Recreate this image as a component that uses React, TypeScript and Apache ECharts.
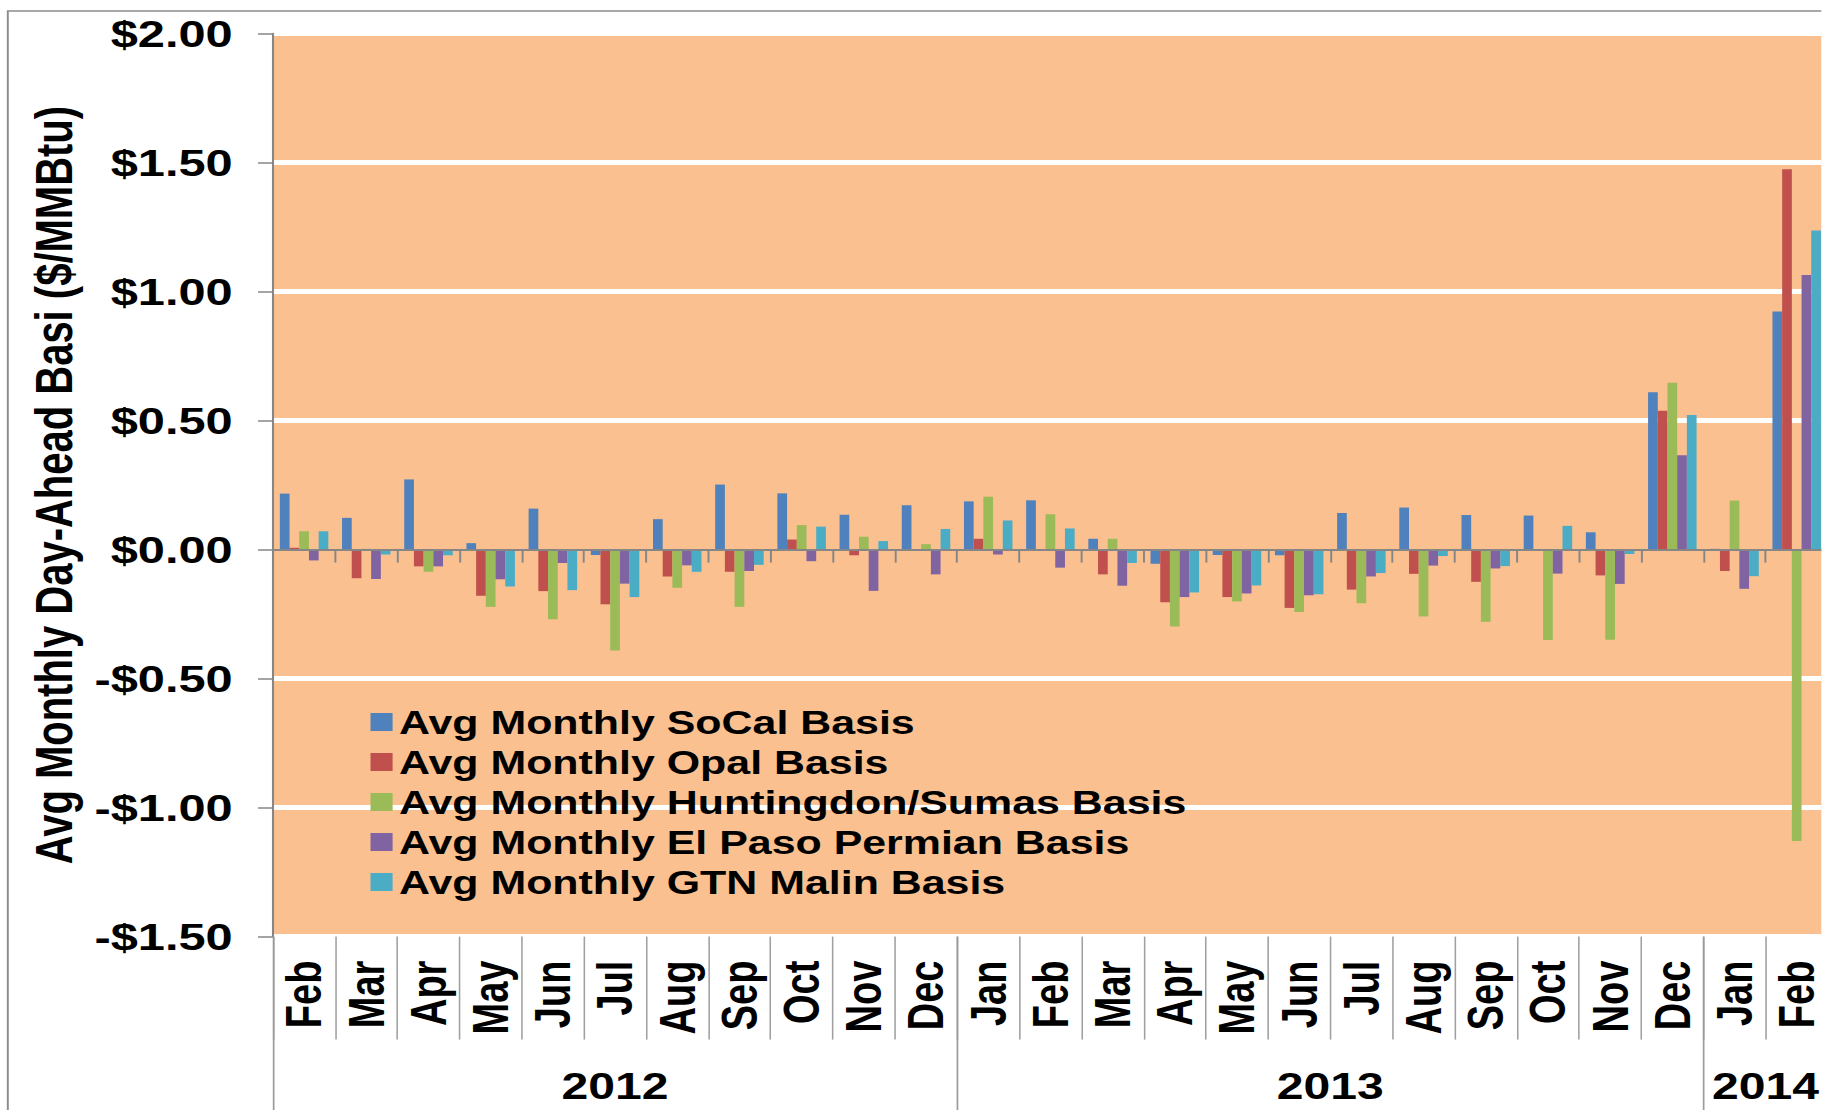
import React, { useEffect, useRef } from "react";
import * as echarts from "echarts";

// ---------- data ----------
const months = [
  "Feb", "Mar", "Apr", "May", "Jun", "Jul", "Aug", "Sep", "Oct", "Nov", "Dec",
  "Jan", "Feb", "Mar", "Apr", "May", "Jun", "Jul", "Aug", "Sep", "Oct", "Nov", "Dec",
  "Jan", "Feb",
];
const years = ["2012", "2013", "2014"];
const yearMonthCounts = [11, 12, 2];

const seriesNames = [
  "Avg Monthly SoCal Basis",
  "Avg Monthly Opal Basis",
  "Avg Monthly Huntingdon/Sumas Basis",
  "Avg Monthly El Paso Permian Basis",
  "Avg Monthly GTN Malin Basis",
];
const socal = [0.217, 0.123, 0.272, 0.025, 0.159, -0.021, 0.118, 0.252, 0.218, 0.135, 0.172, 0.187, 0.191, 0.042, -0.055, -0.021, -0.022, 0.142, 0.163, 0.134, 0.132, 0.067, 0.61, 0.003, 0.923];
const opal = [0.007, -0.111, -0.065, -0.179, -0.161, -0.212, -0.104, -0.086, 0.039, -0.022, -0.004, 0.042, 0.002, -0.096, -0.204, -0.184, -0.226, -0.155, -0.094, -0.125, -0.002, -0.1, 0.538, -0.083, 1.474];
const huntingdon = [0.071, 0.003, -0.086, -0.222, -0.27, -0.391, -0.148, -0.222, 0.095, 0.05, 0.021, 0.205, 0.137, 0.042, -0.298, -0.201, -0.242, -0.208, -0.259, -0.28, -0.35, -0.349, 0.647, 0.19, -1.129];
const elpaso = [-0.042, -0.114, -0.065, -0.115, -0.052, -0.132, -0.061, -0.083, -0.045, -0.16, -0.096, -0.019, -0.07, -0.14, -0.184, -0.17, -0.177, -0.104, -0.062, -0.073, -0.093, -0.133, 0.366, -0.152, 1.064];
const gtn = [0.071, -0.019, -0.022, -0.143, -0.157, -0.184, -0.086, -0.059, 0.089, 0.033, 0.08, 0.113, 0.082, -0.052, -0.166, -0.139, -0.173, -0.091, -0.025, -0.064, 0.092, -0.017, 0.522, -0.103, 1.237];
const seriesValues = [socal, opal, huntingdon, elpaso, gtn];
const seriesColors = ["#4F81BD", "#C0504D", "#9BBB59", "#8064A2", "#4BACC6"];

const yTicks = { min: -1.5, max: 2, interval: 0.5 };

// ---------- layout ----------
const STRETCH = 1.3; // the reference is horizontally stretched
const W = 1401;
const H = 1110;
const FONT = "'Liberation Sans', Arial, sans-serif";

// build a half-step axis (51 points) for year labels/separators
const yearAxisData: string[] = new Array(months.length * 2 + 1).fill("");
const yearTickIdx: number[] = [];
const yearLabelIdx: number[] = [];
{
  let start = 0;
  years.forEach((y, i) => {
    const n = yearMonthCounts[i];
    yearTickIdx.push(start * 2);
    const mid = start * 2 + n;
    yearLabelIdx.push(mid);
    yearAxisData[mid] = y;
    start += n;
  });
}

const fmtMoney = (v: number) => {
  const s = "$" + Math.abs(v).toFixed(2);
  return v < 0 ? "-" + s : s;
};

export default function App() {
  const ref = useRef<HTMLDivElement>(null);
  useEffect(() => {
    document.body.style.margin = "0";
    document.body.style.overflow = "hidden";
    if (!ref.current) return;
    const chart = echarts.init(ref.current, undefined, { renderer: "svg" });
    const gridColors = [];
    for (let v = yTicks.min; v <= yTicks.max + 1e-9; v += yTicks.interval) {
      gridColors.push(Math.abs(v) < 1e-9 ? "#FAC090" : "#FFFFFF");
    }
    const option: any = {
      animation: false,
      backgroundColor: "#FFFFFF",
      textStyle: { fontFamily: FONT },
      graphic: [
        {
          type: "rect",
          silent: true,
          shape: { x: 6, y: 11, width: 2000, height: 2000 },
          style: { fill: "none", stroke: "#8C8C8C", lineWidth: 1.5 },
        },
      ],
      grid: {
        left: 210,
        top: 33.6,
        width: 1196,
        height: 903,
        show: true,
        backgroundColor: "#FAC090",
        borderWidth: 0,
        containLabel: false,
        outerBoundsMode: "none",
      },
      legend: {
        orient: "vertical",
        left: 285,
        top: 705,
        padding: 0,
        itemWidth: 17,
        itemHeight: 18,
        itemGap: 6,
        icon: "rect",
        data: seriesNames,
        textStyle: {
          fontFamily: FONT,
          fontSize: 33,
          fontWeight: "bold",
          color: "#000",
          lineHeight: 34,
        },
      },
      xAxis: [
        {
          type: "category",
          data: months,
          axisLine: { show: true, onZero: true, lineStyle: { color: "#868686", width: 2 } },
          axisTick: { show: true, length: 13, lineStyle: { color: "#868686", width: 1.5 } },
          axisLabel: { show: false },
          splitLine: { show: false },
          z: 10,
        },
        {
          type: "category",
          data: months,
          position: "bottom",
          axisLine: { show: false, onZero: false },
          axisTick: { show: true, length: 103, lineStyle: { color: "#A0A0A0", width: 1.2 } },
          axisLabel: {
            interval: 0,
            rotate: 90,
            margin: 24,
            fontFamily: FONT,
            fontSize: 38,
            lineHeight: 33,
            fontWeight: "bold",
            color: "#000",
          },
          splitLine: { show: false },
        },
        {
          type: "category",
          data: yearAxisData,
          boundaryGap: false,
          position: "bottom",
          axisLine: { show: false, onZero: false },
          axisTick: {
            show: true,
            length: 190,
            interval: (i: number) => yearTickIdx.includes(i),
            lineStyle: { color: "#9A9A9A", width: 1.3 },
          },
          axisLabel: {
            interval: (i: number) => yearLabelIdx.includes(i),
            margin: 131,
            fontFamily: FONT,
            fontSize: 37,
            fontWeight: "bold",
            color: "#000",
          },
          splitLine: { show: false },
        },
      ],
      yAxis: {
        type: "value",
        min: yTicks.min,
        max: yTicks.max,
        interval: yTicks.interval,
        name: "Avg Monthly Day-Ahead Basi ($/MMBtu)",
        nameLocation: "middle",
        nameGap: 135,
        nameTextStyle: { fontFamily: FONT, fontSize: 40, fontWeight: "bold", color: "#000" },
        axisLine: { show: true, lineStyle: { color: "#868686", width: 1.6 } },
        axisTick: { show: true, length: 11.5, lineStyle: { color: "#868686", width: 1.5 } },
        axisLabel: {
          formatter: fmtMoney,
          margin: 31,
          fontFamily: FONT,
          fontSize: 37.5,
          fontWeight: "bold",
          color: "#000",
        },
        splitLine: { show: true, lineStyle: { color: gridColors, width: 5 } },
      },
      series: seriesNames.map((name, i) => ({
        name,
        type: "bar",
        xAxisIndex: 0,
        yAxisIndex: 0,
        data: seriesValues[i],
        barGap: "0%",
        barCategoryGap: "22%",
        itemStyle: { color: seriesColors[i] },
      })),
    };
    chart.setOption(option);
    return () => chart.dispose();
  }, []);

  return (
    <div style={{ position: "absolute", left: 0, top: 0, width: 1822, height: H, overflow: "hidden" }}>
      <div
        ref={ref}
        style={{
          position: "absolute",
          left: 0,
          top: 0,
          width: W,
          height: H,
          transform: `scaleX(${STRETCH})`,
          transformOrigin: "0 0",
        }}
      />
    </div>
  );
}
